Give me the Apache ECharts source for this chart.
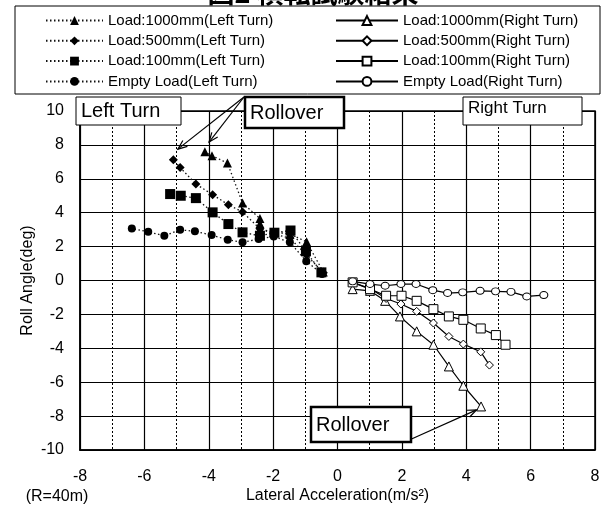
<!DOCTYPE html>
<html><head><meta charset="utf-8">
<script src="https://cdn.jsdelivr.net/npm/echarts@6/dist/echarts.min.js"></script>
<style>html,body{margin:0;padding:0;background:#fff}#c{width:607px;height:509px}</style>
</head><body><div id="c"></div>
<script>
// ---- data (x = lateral acceleration m/s², y = roll angle deg) ----
const left1000 = [[-0.44,0.5],[-0.96,2.28],[-1.48,2.75],[-1.98,2.85],[-2.41,3.03],[-2.41,3.35],[-2.41,3.66],[-2.95,4.57],[-3.42,6.93],[-3.9,7.36],[-4.12,7.59]];
const left500 = [[-0.44,0.45],[-0.96,1.5],[-1.48,2.5],[-1.98,2.75],[-2.41,3.05],[-2.95,4.04],[-3.39,4.47],[-3.88,5.06],[-4.40,5.69],[-4.89,6.67],[-5.10,7.12]];
const left100 = [[-0.5,0.48],[-0.98,1.72],[-1.46,2.95],[-1.96,2.82],[-2.41,2.64],[-2.95,2.84],[-3.39,3.33],[-3.88,4.02],[-4.40,4.86],[-4.87,5.0],[-5.20,5.10]];
const leftEmpty = [[-0.48,0.38],[-0.97,1.14],[-1.48,2.25],[-1.98,2.6],[-2.45,2.45],[-2.95,2.25],[-3.41,2.40],[-3.91,2.68],[-4.43,2.90],[-4.89,2.99],[-5.38,2.64],[-5.88,2.87],[-6.39,3.07]];
const right1000 = [[0.47,-0.51],[1.01,-0.61],[1.48,-1.20],[1.94,-2.12],[2.46,-3.0],[2.98,-3.79],[3.46,-5.07],[3.91,-6.21],[4.46,-7.43]];
const right500 = [[0.47,-0.11],[1.01,-0.47],[1.51,-1.06],[1.97,-1.39],[2.46,-1.82],[2.98,-2.51],[3.46,-3.30],[3.91,-3.75],[4.45,-4.21],[4.72,-4.99]];
const right100 = [[0.47,-0.11],[1.01,-0.51],[1.51,-0.90],[1.99,-0.90],[2.46,-1.20],[2.98,-1.69],[3.46,-2.12],[3.91,-2.32],[4.45,-2.83],[4.92,-3.22],[5.22,-3.79]];
const rightEmpty = [[0.47,-0.05],[1.01,-0.21],[1.48,-0.31],[1.97,-0.21],[2.44,-0.21],[2.96,-0.57],[3.42,-0.74],[3.89,-0.70],[4.43,-0.61],[4.91,-0.64],[5.39,-0.67],[5.88,-0.94],[6.41,-0.86]];

const leftNames = ['Load:1000mm(Left Turn)','Load:500mm(Left Turn)','Load:100mm(Left Turn)','Empty Load(Left Turn)'];
const rightNames = ['Load:1000mm(Right Turn)','Load:500mm(Right Turn)','Load:100mm(Right Turn)','Empty Load(Right Turn)'];
const titleText = '図2 横転試験結果';
const xAxisName = 'Lateral Acceleration(m/s²)';
const yAxisName = 'Roll Angle(deg)';
const radiusNote = '(R=40m)';
// annotation arrow tips (data coords)
const rolloverTopTips = [[-4.96,7.75],[-3.99,8.17]];
const rolloverBottomTip = [4.32,-7.63];

const F = '"Liberation Sans", Arial, sans-serif';
const chart = echarts.init(document.getElementById('c'), null, {renderer:'canvas'});

function leftSeries(name, data, symbol, size) {
  return { name, type:'line', data, symbol, symbolSize:size, showSymbol:true,
    lineStyle:{color:'#111', width:1.3, type:[1.5,2.5]},
    itemStyle:{color:'#000', borderColor:'#000', borderWidth:0},
    emphasis:{disabled:true}, z:3 };
}
function rightSeries(name, data, symbol, size) {
  return { name, type:'line', data, symbol, symbolSize:size, showSymbol:true,
    lineStyle:{color:'#000', width:1.2, type:'solid'},
    itemStyle:{color:'#fff', borderColor:'#000', borderWidth:1},
    emphasis:{disabled:true}, z:4 };
}

const legendCommon = { orient:'vertical', top:13, itemHeight:11, itemGap:5.3, selectedMode:false,
  textStyle:{fontSize:15, color:'#000', fontFamily:F}, padding:0 };

chart.setOption({
  animation:false,
  backgroundColor:'#fff',
  grid:{left:80, right:12, top:111, bottom:58, show:true, borderColor:'#000', borderWidth:1.5, backgroundColor:'transparent'},
  xAxis:{type:'value', min:-8, max:8, interval:2,
    axisLine:{show:true, onZero:false, lineStyle:{color:'#000', width:1.5}},
    axisTick:{show:false},
    axisLabel:{color:'#000', fontSize:16, fontFamily:F, margin:19},
    splitLine:{show:true, lineStyle:{color:'#000', width:1.2}},
    minorTick:{show:false, splitNumber:2},
    minorSplitLine:{show:true, lineStyle:{color:'#000', width:1, type:[2,2]}},
    name:xAxisName, nameLocation:'middle', nameGap:38, nameMoveOverlap:false,
    nameTextStyle:{color:'#000', fontSize:16, fontFamily:F}},
  yAxis:{type:'value', min:-10, max:10, interval:2,
    axisLine:{show:true, onZero:false, lineStyle:{color:'#000', width:1.5}},
    axisTick:{show:false},
    axisLabel:{color:'#000', fontSize:16, fontFamily:F, margin:16},
    splitLine:{show:true, lineStyle:{color:'#000', width:1.2}},
    name:yAxisName, nameLocation:'middle', nameGap:44, nameRotate:90, nameMoveOverlap:false,
    nameTextStyle:{color:'#000', fontSize:16, fontFamily:F}},
  legend:[
    Object.assign({}, legendCommon, {data:leftNames, left:45, itemWidth:57}),
    Object.assign({}, legendCommon, {data:rightNames, left:335, itemWidth:62})
  ],
  series:[
    leftSeries(leftNames[0], left1000, 'triangle', 9),
    leftSeries(leftNames[1], left500, 'diamond', 9),
    leftSeries(leftNames[2], left100, 'rect', 10),
    leftSeries(leftNames[3], leftEmpty, 'circle', 8),
    rightSeries(rightNames[0], right1000, 'triangle', 9),
    rightSeries(rightNames[1], right500, 'diamond', 8),
    rightSeries(rightNames[2], right100, 'rect', 9),
    rightSeries(rightNames[3], rightEmpty, 'circle', [8,7])
  ]
});

function arrow(from, to) {
  const dx = to[0]-from[0], dy = to[1]-from[1];
  const a = Math.atan2(dy, dx), L = 10, w = 0.38;
  const p1 = [to[0]-L*Math.cos(a-w), to[1]-L*Math.sin(a-w)];
  const p2 = [to[0]-L*Math.cos(a+w), to[1]-L*Math.sin(a+w)];
  return [
    {type:'line', z:110, shape:{x1:from[0], y1:from[1], x2:to[0], y2:to[1]}, style:{stroke:'#000', lineWidth:1.2}},
    {type:'polyline', z:110, shape:{points:[p1, to, p2]}, style:{stroke:'#000', lineWidth:1.2, fill:null}}
  ];
}
function box(x, y, w, h, lw, text, size, tx, ty) {
  return [
    {type:'rect', z:100, shape:{x, y, width:w, height:h}, style:{fill:'#fff', stroke:'#000', lineWidth:lw}},
    {type:'text', z:101, x:tx, y:ty, style:{text, font: size+'px '+F, fill:'#000', textAlign:'left', textVerticalAlign:'middle'}}
  ];
}

const px = p => chart.convertToPixel({gridIndex:0}, p);
let g = [];
g.push({type:'text', z:-1, x:313, y:-7, style:{text:titleText, font:'bold 27px "Noto Sans CJK JP"', fill:'#000', textAlign:'center', textVerticalAlign:'middle'}});
g.push({type:'rect', z:0, shape:{x:15, y:6, width:585, height:88}, style:{fill:'#fff', stroke:'#000', lineWidth:1}});
g = g.concat(box(76, 97, 105, 28, 1, 'Left Turn', 20, 81, 111));
g = g.concat(box(245, 97, 99, 31, 2.5, 'Rollover', 20, 250, 113));
g = g.concat(box(463, 97, 119, 28, 1, 'Right Turn', 17, 468, 108));
g = g.concat(box(311, 407, 100, 35, 2.5, 'Rollover', 20, 316, 425));
rolloverTopTips.forEach(t => { g = g.concat(arrow([244, 97], px(t))); });
g = g.concat(arrow([411.5, 439], px(rolloverBottomTip)));
g.push({type:'text', z:100, x:57, y:497, style:{text:radiusNote, font:'16px '+F, fill:'#000', textAlign:'center', textVerticalAlign:'middle'}});
chart.setOption({graphic:g});
</script>
</body></html>
